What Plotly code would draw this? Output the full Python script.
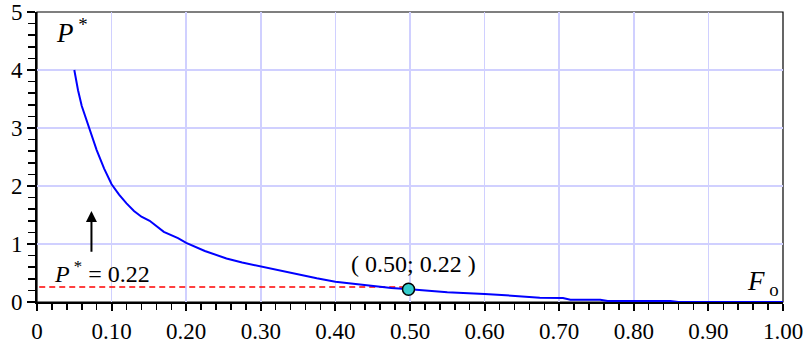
import plotly.graph_objects as go

# Curve P*(Fo)
fo = [0.050, 0.055, 0.060, 0.070, 0.080, 0.090, 0.100, 0.110, 0.120, 0.130,
      0.140, 0.151, 0.170, 0.189, 0.200, 0.225, 0.254, 0.275, 0.300, 0.325,
      0.353, 0.375, 0.400, 0.425, 0.450, 0.475, 0.500, 0.550, 0.600, 0.640,
      0.674, 0.705, 0.715, 0.755, 0.765, 0.849, 0.860, 1.000]
p_star = [4.00, 3.65, 3.38, 3.00, 2.62, 2.30, 2.03, 1.85, 1.70, 1.57,
          1.47, 1.40, 1.21, 1.10, 1.02, 0.88, 0.75, 0.68, 0.61, 0.54,
          0.47, 0.41, 0.35, 0.31, 0.27, 0.24, 0.22, 0.17, 0.14, 0.10,
          0.075, 0.069, 0.040, 0.040, 0.017, 0.017, 0.0, 0.0]

point_x = [0.498]
point_y = [0.22]
ref_level = 0.26  # dashed guide as drawn
ref_x = [0.003, 0.49]

x_ticks = [0, 0.1, 0.2, 0.3, 0.4, 0.5, 0.6, 0.7, 0.8, 0.9, 1.0]
x_ticktext = ["0", "0.10", "0.20", "0.30", "0.40", "0.50", "0.60", "0.70", "0.80", "0.90", "1.00"]
y_ticks = [0, 1, 2, 3, 4, 5]

SERIF = "Liberation Serif, Times New Roman, serif"
tick_font = dict(family=SERIF, size=23, color="black")

fig = go.Figure()
fig.add_trace(go.Scatter(x=ref_x, y=[ref_level, ref_level], mode="lines",
                         line=dict(color="#ff0000", width=1.5, dash="6px,4px"),
                         cliponaxis=False, showlegend=False, hoverinfo="skip"))
fig.add_trace(go.Scatter(x=fo, y=p_star, mode="lines",
                         line=dict(color="#0000ff", width=2),
                         cliponaxis=False, showlegend=False))
fig.add_trace(go.Scatter(x=point_x, y=point_y, mode="markers",
                         marker=dict(size=12, color="#33cccc", line=dict(color="black", width=1.5)),
                         cliponaxis=False, showlegend=False))

fig.update_layout(
    template="none",
    width=806, height=344,
    autosize=False,
    margin=dict(l=37, r=23, t=12, b=42, pad=0, autoexpand=False),
    plot_bgcolor="white", paper_bgcolor="white",
    font=dict(family=SERIF, size=23, color="black"),
    xaxis=dict(range=[0, 1], tickvals=x_ticks, ticktext=x_ticktext, tickfont=tick_font,
               automargin=False,
               showgrid=True, gridcolor="#d0d0ff", gridwidth=1.5,
               zeroline=False, showline=True, linecolor="black", linewidth=2,
               ticks="outside", ticklen=7, tickwidth=2, tickcolor="black",
               minor=dict(dtick=0.02, ticks="outside", ticklen=6, tickwidth=1.5,
                          tickcolor="black", showgrid=False),
               layer="below traces", fixedrange=True),
    yaxis=dict(range=[0, 5], tickvals=y_ticks, tickfont=tick_font,
               automargin=False,
               showgrid=True, gridcolor="#d0d0ff", gridwidth=1.5,
               zeroline=False, showline=True, linecolor="black", linewidth=2,
               ticks="outside", ticklen=8, tickwidth=2, tickcolor="black",
               minor=dict(dtick=0.2, ticks="outside", ticklen=7, tickwidth=1.5,
                          tickcolor="black", showgrid=False),
               layer="below traces", fixedrange=True),
    shapes=[dict(type="rect", xref="paper", yref="paper", x0=0, y0=0, x1=1, y1=1,
                 line=dict(color="black", width=1.2), layer="below")],
    annotations=[
        dict(x=0.047, y=4.68, xref="x", yref="y", text="<i>P</i><sup> *</sup>",
             showarrow=False, font=dict(family=SERIF, size=27)),
        dict(x=0.973, y=0.33, xref="x", yref="y", text="<i>F</i><sub> o</sub>",
             showarrow=False, font=dict(family=SERIF, size=27)),
        dict(x=0.505, y=0.65, xref="x", yref="y", text="( 0.50; 0.22 )",
             showarrow=False, font=dict(family=SERIF, size=24)),
        dict(x=0.087, y=0.52, xref="x", yref="y", text="<i>P</i><sup> *</sup> = 0.22",
             showarrow=False, font=dict(family=SERIF, size=24)),
        dict(x=0.073, y=1.57, ax=0.073, ay=0.84, xref="x", yref="y", axref="x", ayref="y",
             text="", showarrow=True, arrowhead=2, arrowsize=1.1, arrowwidth=2,
             arrowcolor="black"),
    ],
)

fig.write_html("out.html", config={"displayModeBar": False, "staticPlot": True},
               post_script="document.body.style.margin='0';document.body.style.padding='0';")
